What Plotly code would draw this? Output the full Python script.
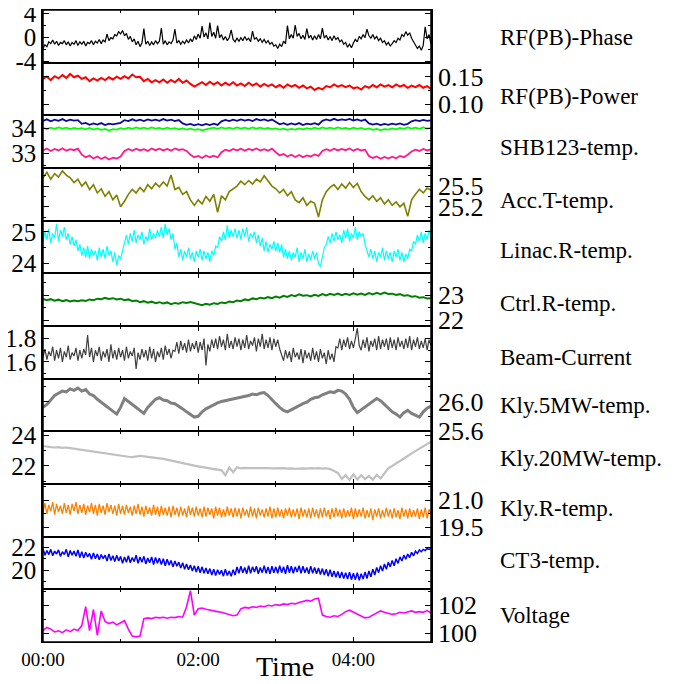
import pandas as pd
import plotly.graph_objects as go

# ---------------- data ----------------
# coarse series: one sample every 3 minutes; noisy series: one sample every 90 s
time = pd.date_range("2000-01-01 00:00", "2000-01-01 05:00", freq="3min")
time_fine = pd.date_range("2000-01-01 00:00", "2000-01-01 05:00", freq="90s")

phase = [-1.9,-1.3,-1.6,-0.8,-1.1,-0.5,-1.2,-0.7,-1.4,-0.9,-1.1,-0.6,-1.3,-0.8,-1.5,-0.9,-1.2,-0.6,-1.4,-0.8,
         -1.2,-0.7,-1.5,-0.9,-1.1,-0.6,-1.3,-0.7,-1.0,-0.4,-1.1,-0.5,-0.8,0.5,-0.6,-0.1,-0.3,0.4,0.2,0.9,
         0.5,1.1,0.2,0.6,-0.4,0.1,-0.8,-0.3,-1.3,-0.7,-1.6,-1.0,1.4,-1.2,-0.7,-1.4,-0.8,-1.3,-0.6,-1.1,
         -0.7,1.5,-1.2,-0.6,-1.3,-0.8,-1.1,-0.5,1.3,-1.0,-0.6,-1.2,-0.7,-1.1,-0.5,-1.0,-0.3,-0.8,0.2,-0.4,
         0.5,-0.2,1.8,0.0,0.7,-0.3,2.4,0.1,0.8,-0.2,1.9,-0.1,0.4,-0.5,0.1,-0.6,-0.1,1.2,-0.4,-0.8,
         -0.2,-0.7,-0.1,-0.6,0.1,-0.5,-0.2,-0.8,1.0,-0.4,-0.1,-0.7,-0.3,-0.9,-0.4,-1.0,-0.6,-1.2,-0.9,-1.5,
         -1.3,-1.9,-1.2,-1.6,-0.7,-1.1,1.9,-0.3,0.4,-0.2,2.0,0.1,0.6,-0.3,0.3,-0.4,1.4,-0.2,0.3,-0.5,
         0.2,-0.4,0.4,-0.3,1.5,-0.2,0.3,-0.5,0.1,-0.6,0.2,-0.4,-0.1,-0.8,-0.5,-1.2,-0.9,-1.7,-1.2,-1.8,
         -1.0,-0.4,-0.8,0.1,-0.3,0.4,-0.1,1.3,0.2,-0.2,0.4,-0.3,0.1,-0.6,-0.2,-0.9,-0.6,-1.3,-0.9,-1.5,
         -1.1,-0.6,-0.9,-0.2,-0.5,0.4,0.1,0.9,0.3,0.7,-0.2,-0.8,-1.3,-1.9,-1.5,-2.2,-1.4,1.7,-0.3,0.4,
         -1.2]

power = [0.146,0.150,0.144,0.151,0.147,0.153,0.148,0.155,0.149,0.152,
         0.146,0.149,0.142,0.147,0.143,0.148,0.144,0.149,0.145,0.150,
         0.146,0.151,0.147,0.154,0.149,0.150,0.142,0.146,0.140,0.144,
         0.140,0.145,0.139,0.144,0.140,0.146,0.139,0.143,0.137,0.132,
         0.136,0.140,0.135,0.141,0.136,0.140,0.134,0.139,0.135,0.140,
         0.134,0.138,0.133,0.139,0.134,0.138,0.132,0.137,0.133,0.136,
         0.131,0.135,0.130,0.136,0.132,0.135,0.130,0.134,0.129,0.132,
         0.126,0.130,0.127,0.133,0.131,0.136,0.132,0.135,0.131,0.134,
         0.129,0.131,0.127,0.133,0.130,0.135,0.131,0.136,0.132,0.135,
         0.131,0.136,0.132,0.135,0.130,0.134,0.131,0.135,0.130,0.133,
         0.128]

shb1 = [34.30,34.36,34.28,34.35,34.30,34.37,34.29,34.35,34.31,34.33,
        34.18,34.22,34.14,34.20,34.15,34.21,34.13,34.19,34.16,34.20,
        34.22,34.33,34.29,34.36,34.30,34.35,34.29,34.36,34.31,34.35,
        34.30,34.37,34.31,34.35,34.29,34.33,34.20,34.14,34.18,34.12,
        34.17,34.12,34.18,34.13,34.19,34.14,34.28,34.34,34.29,34.35,
        34.30,34.36,34.31,34.35,34.29,34.37,34.32,34.36,34.30,34.35,
        34.25,34.16,34.21,34.14,34.20,34.15,34.21,34.13,34.19,34.16,
        34.21,34.15,34.30,34.36,34.31,34.38,34.32,34.36,34.33,34.38,
        34.31,34.36,34.30,34.35,34.20,34.15,34.19,34.13,34.18,34.14,
        34.19,34.15,34.20,34.14,34.18,34.28,34.33,34.29,34.34,34.30,
        34.32]

shb2 = [34.02,33.97,34.03,33.98,34.04,33.99,34.03,33.97,34.02,33.98,
        34.01,33.96,34.02,33.95,34.00,33.94,33.98,33.91,33.97,33.95,
        34.01,33.97,34.03,33.98,34.04,33.99,34.03,33.98,34.04,33.99,
        34.02,33.97,34.03,33.98,34.01,33.96,34.00,33.95,33.99,33.94,
        33.97,33.92,33.96,33.99,34.03,33.98,34.04,33.99,34.03,33.98,
        34.04,33.99,34.03,33.98,34.04,33.99,34.03,33.98,34.02,33.97,
        34.00,33.95,33.99,33.94,33.98,33.95,34.00,33.96,34.01,33.97,
        34.03,33.98,34.04,33.99,34.03,33.98,34.04,33.99,34.02,33.97,
        34.03,33.98,34.02,33.96,34.00,33.94,33.98,33.93,33.97,33.95,
        34.00,33.96,34.02,33.98,34.04,33.99,34.03,33.98,34.04,33.99,
        34.02]

shb3 = [33.12,33.20,33.10,33.18,33.12,33.21,33.11,33.17,33.13,33.19,
        32.95,32.85,32.92,32.80,32.88,32.78,32.86,32.76,32.83,32.80,
        32.88,33.10,33.18,33.11,33.19,33.12,33.17,33.10,33.20,33.13,
        33.19,33.12,33.18,33.11,33.20,33.14,33.17,33.10,32.95,32.85,
        32.90,32.82,32.92,32.85,32.91,32.84,33.05,33.15,33.10,33.18,
        33.12,33.19,33.11,33.18,33.13,33.20,33.12,33.17,33.11,33.19,
        33.05,32.92,32.98,32.88,32.95,32.86,32.94,32.85,32.92,32.88,
        32.96,32.90,33.10,33.17,33.11,33.19,33.12,33.18,33.13,33.20,
        33.11,33.18,33.12,33.15,32.90,32.82,32.88,32.79,32.86,32.80,
        32.87,32.81,32.90,32.85,32.95,33.08,33.15,33.10,33.18,33.12,
        33.16]

acct = [25.62,25.70,25.60,25.68,25.63,25.72,25.66,25.62,25.55,25.60,
        25.50,25.56,25.45,25.52,25.40,25.46,25.35,25.42,25.30,25.37,
        25.20,25.28,25.38,25.45,25.40,25.48,25.42,25.52,25.46,25.54,
        25.49,25.56,25.50,25.66,25.45,25.48,25.38,25.42,25.30,25.22,
        25.30,25.24,25.35,25.28,25.38,25.12,25.36,25.30,25.42,25.46,
        25.50,25.57,25.52,25.58,25.53,25.60,25.56,25.65,25.58,25.50,
        25.46,25.40,25.45,25.36,25.42,25.30,25.26,25.33,25.22,25.28,
        25.25,25.05,25.30,25.42,25.48,25.52,25.45,25.53,25.47,25.55,
        25.48,25.54,25.42,25.35,25.30,25.36,25.28,25.33,25.24,25.30,
        25.22,25.27,25.20,25.25,25.06,25.30,25.38,25.45,25.40,25.47,
        25.44]

linac = [24.70,25.00,24.75,25.10,24.65,24.95,24.80,25.25,24.70,25.05,24.85,25.15,24.75,24.95,24.60,24.85,24.55,24.75,24.40,24.60,
         24.25,24.50,24.20,24.55,24.15,24.45,24.25,24.40,24.10,24.50,24.20,24.45,24.15,24.55,24.25,24.40,24.05,24.35,23.95,24.25,
         24.15,24.45,24.65,24.90,24.60,24.95,24.70,25.05,24.65,24.90,24.75,25.00,24.60,24.85,24.70,25.10,24.75,24.95,24.80,25.05,
         24.85,25.15,24.80,25.25,24.90,25.10,24.75,24.95,24.45,24.65,24.20,24.45,24.10,24.40,24.20,24.50,24.15,24.35,24.05,24.40,
         24.20,24.45,24.10,24.40,24.15,24.35,24.05,24.40,24.25,24.55,24.50,24.85,24.70,25.00,24.75,25.20,24.80,25.05,24.85,25.10,
         24.80,25.05,24.75,25.10,24.85,25.15,24.70,24.95,24.80,25.00,24.65,24.90,24.55,24.80,24.40,24.70,24.35,24.60,24.45,24.70,
         24.40,24.65,24.35,24.60,24.20,24.45,24.15,24.40,24.10,24.35,24.20,24.50,24.05,24.35,24.15,24.45,24.05,24.30,24.10,24.40,
         24.15,24.35,24.00,23.90,24.25,24.50,24.60,24.85,24.65,24.95,24.70,25.00,24.75,24.90,24.65,25.05,24.80,25.10,24.70,24.95,
         24.80,25.15,24.75,25.00,24.85,24.95,24.60,24.40,24.20,24.45,24.15,24.40,24.05,24.35,24.20,24.50,24.10,24.40,24.15,24.35,
         24.05,24.40,24.20,24.45,24.10,24.35,24.05,24.30,24.15,24.45,24.40,24.70,24.60,24.90,24.70,25.00,24.65,24.95,24.75,25.05,
         24.80]

ctrl = [22.85,22.80,22.84,22.78,22.82,22.76,22.80,22.75,22.79,22.76,
        22.80,22.77,22.83,22.80,22.86,22.84,22.89,22.85,22.88,22.83,
        22.86,22.80,22.83,22.76,22.79,22.72,22.76,22.70,22.74,22.68,
        22.72,22.67,22.71,22.64,22.69,22.66,22.72,22.69,22.73,22.68,
        22.65,22.60,22.66,22.62,22.68,22.65,22.71,22.68,22.75,22.72,
        22.79,22.76,22.83,22.80,22.87,22.84,22.90,22.87,22.92,22.88,
        22.94,22.90,22.97,22.93,23.00,22.96,23.03,22.98,23.00,22.95,
        23.01,22.97,23.04,22.99,23.05,23.01,23.06,23.00,23.05,23.01,
        23.07,23.02,23.06,23.01,23.08,23.03,23.09,23.04,23.10,23.05,
        23.06,23.01,23.04,22.98,23.00,22.94,22.96,22.90,22.92,22.87,
        22.88]

beam = [1.64,1.71,1.62,1.69,1.65,1.73,1.61,1.70,1.63,1.72,1.60,1.69,1.64,1.74,1.62,1.68,1.65,1.72,1.61,1.70,
        1.63,1.71,1.66,1.83,1.64,1.72,1.60,1.70,1.65,1.73,1.61,1.69,1.64,1.71,1.60,1.75,1.63,1.70,1.62,1.72,
        1.64,1.70,1.61,1.73,1.63,1.69,1.65,1.72,1.54,1.68,1.62,1.71,1.64,1.70,1.61,1.73,1.63,1.71,1.60,1.69,
        1.64,1.72,1.62,1.74,1.66,1.71,1.63,1.70,1.69,1.77,1.67,1.78,1.70,1.76,1.68,1.79,1.69,1.76,1.71,1.78,
        1.68,1.77,1.70,1.80,1.57,1.75,1.69,1.79,1.72,1.80,1.71,1.82,1.73,1.79,1.70,1.84,1.72,1.78,1.71,1.81,
        1.73,1.80,1.70,1.79,1.72,1.83,1.71,1.78,1.74,1.81,1.69,1.80,1.73,1.84,1.71,1.79,1.72,1.81,1.70,1.80,
        1.73,1.79,1.71,1.66,1.61,1.70,1.63,1.69,1.60,1.72,1.64,1.68,1.62,1.71,1.59,1.70,1.63,1.68,1.61,1.72,
        1.62,1.69,1.60,1.71,1.63,1.68,1.58,1.70,1.62,1.67,1.60,1.73,1.72,1.80,1.70,1.79,1.73,1.81,1.71,1.78,
        1.72,1.80,1.89,1.74,1.70,1.79,1.72,1.81,1.69,1.78,1.73,1.80,1.70,1.82,1.71,1.79,1.73,1.80,1.70,1.81,
        1.72,1.79,1.70,1.81,1.73,1.78,1.71,1.80,1.72,1.82,1.70,1.79,1.73,1.81,1.71,1.78,1.72,1.80,1.70,1.79,
        1.74]

kly5 = [25.92,25.96,26.02,26.08,26.11,26.14,26.13,26.17,26.15,26.18,
        26.14,26.16,26.10,26.08,26.03,25.99,25.95,25.90,25.86,25.83,
        25.92,26.04,26.00,25.96,25.91,25.87,25.84,25.92,25.98,26.03,
        26.05,26.02,26.01,25.98,25.97,25.94,25.90,25.86,25.82,25.79,
        25.80,25.86,25.90,25.93,25.96,25.98,26.00,26.01,26.03,26.04,
        26.04,26.06,26.07,26.08,26.10,26.09,26.11,26.12,26.08,26.02,
        25.97,25.92,25.88,25.86,25.89,25.92,25.94,25.97,25.99,26.03,
        26.05,26.06,26.09,26.11,26.13,26.12,26.15,26.14,26.10,26.03,
        25.92,25.85,25.89,25.93,25.97,26.01,26.04,26.01,25.96,25.90,
        25.86,25.83,25.79,25.85,25.88,25.84,25.81,25.79,25.86,25.91,
        25.94]

kly20 = [23.30,23.25,23.22,23.20,23.22,23.18,23.20,23.16,23.12,23.10,
         23.05,23.00,22.96,22.92,22.90,22.86,22.82,22.78,22.74,22.72,
         22.68,22.64,22.60,22.58,22.62,22.65,22.62,22.60,22.56,22.54,
         22.50,22.46,22.40,22.34,22.28,22.22,22.16,22.10,22.06,22.02,
         21.98,21.94,21.88,21.84,21.80,21.76,21.72,21.40,21.90,21.60,
         21.92,21.85,21.88,21.86,21.87,21.85,21.88,21.86,21.87,21.85,
         21.86,21.84,21.86,21.83,21.85,21.82,21.84,21.85,21.83,21.86,
         21.84,21.86,21.83,21.85,21.80,21.70,21.55,21.15,21.40,21.10,
         21.45,21.12,21.40,21.15,21.35,21.10,21.42,21.20,21.55,21.85,
         22.00,22.15,22.30,22.48,22.65,22.82,22.98,23.15,23.30,23.45,
         23.58]

klyr = [20.30,20.85,20.25,20.75,20.40,20.90,20.20,20.80,20.35,20.70,20.25,20.85,20.30,20.75,20.20,20.80,20.40,20.90,20.25,20.75,
        20.30,20.80,20.20,20.70,20.35,20.85,20.25,20.75,20.15,20.80,20.30,20.70,20.20,20.85,20.35,20.75,20.25,20.70,20.15,20.80,
        20.25,20.70,20.20,20.75,20.30,20.65,20.15,20.70,20.25,20.80,20.20,20.65,20.10,20.70,20.25,20.60,20.15,20.75,20.20,20.65,
        20.10,20.70,20.20,20.60,20.15,20.65,20.05,20.70,20.20,20.60,20.10,20.65,20.15,20.55,20.05,20.70,20.20,20.60,20.10,20.65,
        20.15,20.55,20.05,20.65,20.10,20.60,20.20,20.55,20.00,20.65,20.15,20.60,20.05,20.50,20.10,20.65,20.15,20.55,20.05,20.60,
        20.10,20.55,20.00,20.60,20.15,20.50,20.05,20.65,20.10,20.55,20.00,20.60,20.15,20.50,20.05,20.55,20.10,20.65,20.00,20.55,
        20.05,20.60,20.10,20.50,20.00,20.55,20.15,20.60,20.05,20.50,20.10,20.55,19.95,20.60,20.10,20.50,20.05,20.55,20.00,20.60,
        20.10,20.50,20.00,20.55,20.05,20.60,20.10,20.45,19.95,20.55,20.05,20.60,20.10,20.50,20.00,20.55,20.05,20.45,20.10,20.60,
        19.95,20.55,20.05,20.50,20.10,20.60,20.00,20.45,20.05,20.55,19.90,20.50,20.10,20.55,20.00,20.45,20.05,20.60,20.10,20.50,
        20.00,20.55,20.05,20.45,19.95,20.60,20.10,20.50,20.00,20.55,20.05,20.45,20.10,20.55,19.95,20.50,20.05,20.60,20.00,20.50,
        20.20]

ct3 = [21.85,21.30,21.70,21.35,21.80,21.25,21.65,21.40,21.75,21.20,21.60,21.35,21.80,21.15,21.70,21.30,21.65,21.20,21.75,21.10,
       21.60,21.05,21.55,21.15,21.45,20.95,21.50,21.00,21.40,20.90,21.35,21.00,21.30,20.80,21.40,20.85,21.25,20.75,21.30,20.80,
       21.20,20.60,21.15,20.70,21.25,20.65,21.10,20.75,21.30,20.60,21.15,20.70,21.20,20.55,21.05,20.65,21.15,20.50,21.10,20.60,
       21.05,20.50,21.00,20.40,20.95,20.45,20.85,20.30,20.80,20.35,20.70,20.20,20.65,20.10,20.55,20.05,20.45,19.95,20.40,19.85,
       20.35,19.80,20.30,19.75,20.20,19.70,20.15,19.60,20.10,19.55,20.05,19.65,20.00,19.50,20.10,19.55,19.95,19.50,20.05,19.60,
       20.30,19.75,20.35,19.80,20.25,19.70,20.40,19.75,20.30,19.85,20.35,19.70,20.25,19.80,20.40,19.75,20.30,19.70,20.35,19.80,
       20.30,19.75,20.40,19.80,20.30,19.70,20.45,19.80,20.35,19.75,20.30,19.85,20.40,19.75,20.35,19.80,20.25,19.70,20.35,19.75,
       20.25,19.70,20.20,19.65,20.15,19.60,20.10,19.50,20.05,19.45,19.95,19.40,19.90,19.35,19.85,19.30,19.80,19.25,19.85,19.20,
       19.75,19.20,19.80,19.15,19.70,19.25,19.85,19.30,19.95,19.45,20.10,19.60,20.25,19.80,20.40,19.95,20.55,20.10,20.70,20.30,
       20.85,20.40,21.00,20.60,21.15,20.80,21.30,20.95,21.40,21.10,21.55,21.25,21.65,21.45,21.75,21.60,21.80,21.70,21.88,21.80,
       21.90]

voltage = [100.20,100.42,100.30,100.10,100.18,100.05,100.25,100.12,100.30,100.20,
           100.55,101.90,100.20,101.70,99.85,101.60,100.85,100.70,100.80,100.60,
           100.75,100.90,100.30,99.80,99.75,99.80,101.05,101.10,101.05,101.15,
           101.10,101.15,101.08,101.15,101.12,101.20,101.15,101.90,103.05,101.30,
           101.75,101.80,101.72,101.65,101.60,101.55,101.50,101.40,101.30,101.25,
           101.30,101.75,101.85,101.80,101.90,101.85,101.95,101.90,102.00,101.95,
           102.05,102.00,102.10,102.05,102.15,102.10,102.20,102.25,102.35,102.30,
           102.45,102.50,101.30,101.20,101.15,101.25,101.20,101.35,101.55,101.65,
           101.50,101.40,101.25,101.10,101.15,101.30,101.45,101.60,101.50,101.40,
           101.35,101.40,101.50,101.45,101.55,101.60,101.50,101.55,101.50,101.62,
           101.45]

labels = ["RF(PB)-Phase", "RF(PB)-Power", "SHB123-temp.", "Acc.T-temp.",
          "Linac.R-temp.", "Ctrl.R-temp.", "Beam-Current", "Kly.5MW-temp.",
          "Kly.20MW-temp.", "Kly.R-temp.", "CT3-temp.", "Voltage"]

tick_vals = [[-4, 0, 4], [0.10, 0.15], [33, 34], [25.2, 25.5], [24, 25], [22, 23],
             [1.6, 1.8], [25.6, 26.0], [22, 24], [19.5, 21.0], [20, 22], [100, 102]]
tick_text = [["-4", "0", "4"], ["0.10", "0.15"], ["33", "34"], ["25.2", "25.5"],
             ["24", "25"], ["22", "23"], ["1.6", "1.8"], ["25.6", "26.0"],
             ["22", "24"], ["19.5", "21.0"], ["20", "22"], ["100", "102"]]
x_tick_labels = ["00:00", "02:00", "04:00"]

# ---------------- styling ----------------
series = [[(time_fine, phase, "#000000")], [(time, power, "#ff0000")],
          [(time, shb1, "#0a0a9a"), (time, shb2, "#00ff00"), (time, shb3, "#ff1a8c")],
          [(time, acct, "#808000")], [(time_fine, linac, "#00ffff")], [(time, ctrl, "#008000")],
          [(time_fine, beam, "#404040")], [(time, kly5, "#808080")], [(time, kly20, "#c0c0c0")],
          [(time_fine, klyr, "#ff8000")], [(time_fine, ct3, "#0000ff")], [(time, voltage, "#ff00ff")]]
widths = [1.2, 2.0, 1.8, 1.6, 1.2, 2.0, 1.2, 3.0, 2.2, 1.3, 1.5, 1.6]
ranges = [[-4.27, 4.5], [0.080, 0.1755], [32.42, 34.52], [24.998, 25.762],
          [23.69, 25.35], [21.77, 23.87], [1.457, 1.907], [25.598, 26.307],
          [20.83, 24.25], [18.98, 21.91], [18.37, 22.89], [99.38, 103.14]]
minor_dt = [2, 0.025, 0.5, 0.15, 0.5, 0.5, 0.1, 0.2, 1, 0.75, 1, 1]
minor_t0 = [0, 0.1, 33, 25.2, 24, 22, 1.6, 25.6, 22, 19.5, 20, 100]

FONT = "Liberation Serif"
N = 12
PAGE_OFF = 8                 # default page margin around the figure
W, H = 686 - 2 * PAGE_OFF, 684 - 2 * PAGE_OFF
ML, MT = 35, 2
plot_w, plot_h = 388, 632
MR, MB = W - ML - plot_w, H - MT - plot_h


def px_x(page_x):
    return (page_x - PAGE_OFF - ML) / plot_w


def px_y(page_y):
    return (MT + plot_h - (page_y - PAGE_OFF)) / plot_h


fig = go.Figure()
layout = dict(width=W, height=H, margin=dict(l=ML, r=MR, t=MT, b=MB, autoexpand=False),
              paper_bgcolor="white", plot_bgcolor="white", showlegend=False,
              font=dict(family=FONT, color="black"))

for k in range(N):
    idx = "" if k == 0 else str(k + 1)
    for tx, vals, col in series[k]:
        fig.add_trace(go.Scatter(x=tx, y=vals, mode="lines",
                                 line=dict(color=col, width=widths[k]),
                                 xaxis="x" + idx, yaxis="y" + idx, hoverinfo="skip"))
    top = 1 - k / N
    bot = 1 - (k + 1) / N
    xa = dict(domain=[0, 1], anchor="y" + idx, type="date", automargin=False,
              range=["2000-01-01 00:00", "2000-01-01 05:00"],
              showline=True, linecolor="black", linewidth=1, mirror="ticks",
              ticks="inside", ticklen=5, tickwidth=1, tickcolor="black",
              tickmode="array",
              tickvals=["2000-01-01 00:00", "2000-01-01 02:00", "2000-01-01 04:00"],
              ticktext=x_tick_labels, ticklabeloverflow="allow",
              minor=dict(ticks="inside", ticklen=3, tickcolor="black",
                         dtick=3600000, tick0="2000-01-01 00:00", showgrid=False),
              showgrid=False, zeroline=False,
              showticklabels=(k == N - 1),
              tickfont=dict(family=FONT, size=19, color="black"))
    if k > 0:
        xa["matches"] = "x"
    left = (k % 2 == 0)
    ya = dict(domain=[bot, top], anchor="x" + idx, range=ranges[k], automargin=False,
              side="left" if left else "right",
              showline=True, linecolor="black", linewidth=1.5, mirror="ticks",
              ticks="inside", ticklen=6, tickwidth=1, tickcolor="black",
              tickmode="array", tickvals=tick_vals[k], ticktext=tick_text[k],
              ticklabelstandoff=0, ticklabeloverflow="allow",
              minor=dict(ticks="inside", ticklen=3, tickcolor="black",
                         tickmode="linear", dtick=minor_dt[k], tick0=minor_t0[k],
                         showgrid=False),
              showgrid=False, zeroline=False, fixedrange=True,
              tickfont=dict(family=FONT, size=25 if left else 26, color="black"))
    layout["xaxis" + idx] = xa
    layout["yaxis" + idx] = ya

# outer frame of the whole stack
layout["shapes"] = [dict(type="rect", xref="paper", yref="paper", x0=0, x1=1, y0=0, y1=1,
                         line=dict(color="black", width=1.5), fillcolor="rgba(0,0,0,0)")]

# series names on the right (positions in page pixels)
label_y_px = [37, 97, 147, 200, 250, 303, 357, 405, 458, 508, 560, 615]
annotations = []
for name, ypx in zip(labels, label_y_px):
    annotations.append(dict(text=name, xref="paper", yref="paper",
                            x=px_x(498), y=px_y(ypx),
                            xanchor="left", yanchor="middle", showarrow=False,
                            font=dict(family=FONT, size=23, color="black")))
annotations.append(dict(text="Time", xref="paper", yref="paper",
                        x=px_x(285), y=px_y(666),
                        xanchor="center", yanchor="middle", showarrow=False,
                        font=dict(family=FONT, size=28, color="black")))
layout["annotations"] = annotations

fig.update_layout(**layout)
fig.write_html("out.html")
